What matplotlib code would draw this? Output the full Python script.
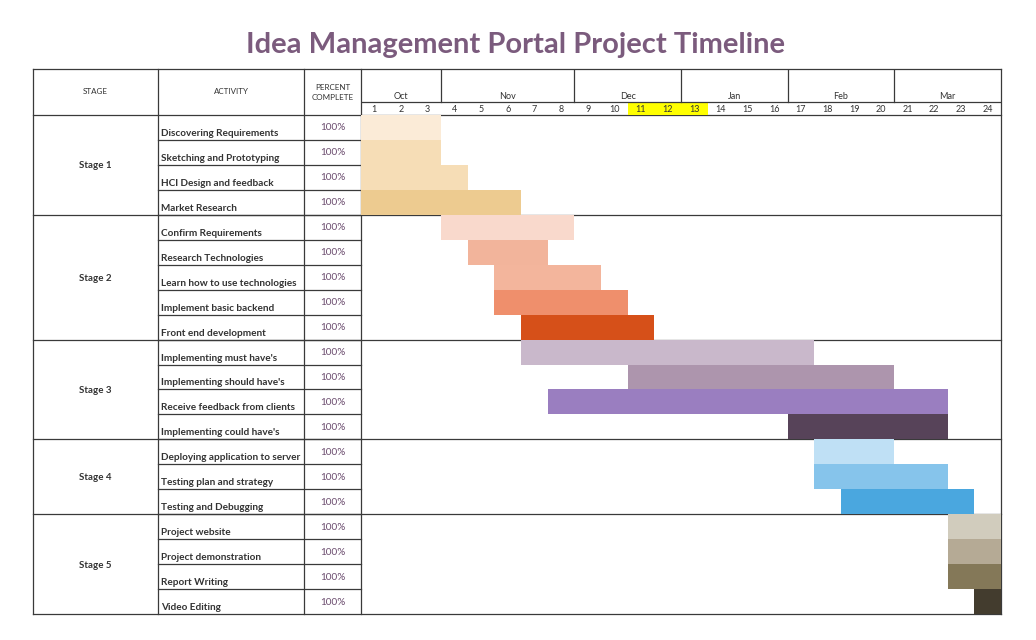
import matplotlib
matplotlib.use("Agg")
import matplotlib.pyplot as plt

title = "Idea Management Portal Project Timeline"
stages = ["Stage 1", "Stage 2", "Stage 3", "Stage 4", "Stage 5"]
stage_sizes = [4, 5, 4, 3, 4]
activities = [
    "Discovering Requirements", "Sketching and Prototyping", "HCI Design and feedback",
    "Market Research", "Confirm Requirements", "Research Technologies",
    "Learn how to use technologies", "Implement basic backend", "Front end development",
    "Implementing must have's", "Implementing should have's", "Receive feedback from clients",
    "Implementing could have's", "Deploying application to server", "Testing plan and strategy",
    "Testing and Debugging", "Project website", "Project demonstration", "Report Writing",
    "Video Editing",
]
percent = [100, 100, 100, 100, 100, 100, 100, 100, 100, 100,
           100, 100, 100, 100, 100, 100, 100, 100, 100, 100]
start_week = [1, 1, 1, 1, 4, 5, 6, 6, 7, 7, 11, 8, 17, 18, 18, 19, 23, 23, 23, 24]
duration = [3, 3, 4, 6, 5, 3, 4, 5, 5, 11, 10, 15, 6, 3, 5, 5, 2, 2, 2, 1]
bar_colors = [
    "#FBEBD7", "#F6DDB6", "#F6DDB6", "#EDCB90", "#F9D9CC", "#F2B49B", "#F3B59C",
    "#EF8F6C", "#D65019", "#C9B8CB", "#AD95AD", "#9A7EC0", "#574359", "#BFE0F5",
    "#86C4EB", "#4AA7DF", "#D1CCBD", "#B5AA95", "#847858", "#433C2E",
]
months = ["Oct", "Nov", "Dec", "Jan", "Feb", "Mar"]
month_weeks = [3, 5, 4, 4, 4, 4]
weeks = [1, 2, 3, 4, 5, 6, 7, 8, 9, 10, 11, 12, 13, 14, 15, 16, 17, 18, 19, 20, 21, 22, 23, 24]
highlight_weeks = [11, 12, 13]

plt.rcParams["font.family"] = ["Lato", "DejaVu Sans"]

W, H = 1036, 640
fig = plt.figure(figsize=(W / 100, H / 100), dpi=100)
fig.patch.set_facecolor("white")

X0, X1, X2, X3, X4 = 33, 158, 304, 361, 1001
Y0, Y1, Y2, Y3 = 69, 102, 115, 614
n = len(activities)
rh = (Y3 - Y2) / n
LC = "#3a3a3a"
LW = 0.9

base = fig.add_axes([0, 0, 1, 1])
base.set_xlim(0, W)
base.set_ylim(H, 0)
base.axis("off")

# Gantt body
g = fig.add_axes([X3 / W, 1 - Y3 / H, (X4 - X3) / W, (Y3 - Y2) / H])
g.set_xlim(0, len(weeks))
g.set_ylim(n, 0)
g.axis("off")
g.barh([i + 0.5 for i in range(n)], duration, left=[s - 1 for s in start_week],
       height=1.0, color=bar_colors, linewidth=0)

# Header (months / weeks)
h = fig.add_axes([X3 / W, 1 - Y2 / H, (X4 - X3) / W, (Y2 - Y0) / H])
h.set_xlim(0, len(weeks))
h.set_ylim(1, 0)
h.axis("off")
split = (Y1 - Y0) / (Y2 - Y0)
h.bar([w - 0.5 for w in highlight_weeks], 1 - split, bottom=split, width=1.0,
      color="#FFFF00", linewidth=0)
h.axhline(split, color=LC, lw=LW)
cum = 0
for m, k in zip(months, month_weeks):
    h.text(cum + k / 2, split - 0.02, m, ha="center", va="bottom", fontsize=6.5, color="#333333")
    cum += k
    if cum < len(weeks):
        h.plot([cum, cum], [0, split], color=LC, lw=LW)
for w in weeks:
    h.text(w - 0.5, (split + 1) / 2 + 0.03, str(w), ha="center", va="center", fontsize=6.5, color="#333333")

# Title
base.text(515, 45, title, ha="center", va="center", fontsize=21, fontweight="bold", color="#7B5B7D")

# Table header
base.text((X0 + X1) / 2, (Y0 + Y2) / 2, "STAGE", ha="center", va="center", fontsize=5.8, color="#333333")
base.text((X1 + X2) / 2, (Y0 + Y2) / 2, "ACTIVITY", ha="center", va="center", fontsize=5.8, color="#333333")
base.text((X2 + X3) / 2, (Y0 + Y2) / 2, "PERCENT\nCOMPLETE", ha="center", va="center",
          fontsize=5.8, color="#333333", linespacing=1.5)

# Frame lines
for x in [X0, X1, X2, X3, X4]:
    base.plot([x, x], [Y0, Y3], color=LC, lw=LW)
base.plot([X0, X4], [Y0, Y0], color=LC, lw=LW)
base.plot([X0, X4], [Y2, Y2], color=LC, lw=LW)

# Row lines in the activity / percent columns
for i in range(1, n):
    base.plot([X1, X3], [Y2 + i * rh, Y2 + i * rh], color=LC, lw=LW)

# Stage separators and labels
r = 0
for s, k in zip(stages, stage_sizes):
    yc = Y2 + (r + k / 2) * rh
    base.text((X0 + X1) / 2, yc + 1, s, ha="center", va="center", fontsize=7, fontweight="bold", color="#333333")
    r += k
    base.plot([X0, X4], [Y2 + r * rh, Y2 + r * rh], color=LC, lw=LW)

# Activities and percents
for i, (a, p) in enumerate(zip(activities, percent)):
    y = Y2 + i * rh
    base.text(X1 + 3, y + rh * 0.74, a, ha="left", va="center", fontsize=7.2, fontweight="bold", color="#333333")
    base.text((X2 + X3) / 2, y + rh * 0.52, f"{p}%", ha="center", va="center", fontsize=7.2, color="#6B4C6E")

fig.savefig("out.png", dpi=100, facecolor="white")
